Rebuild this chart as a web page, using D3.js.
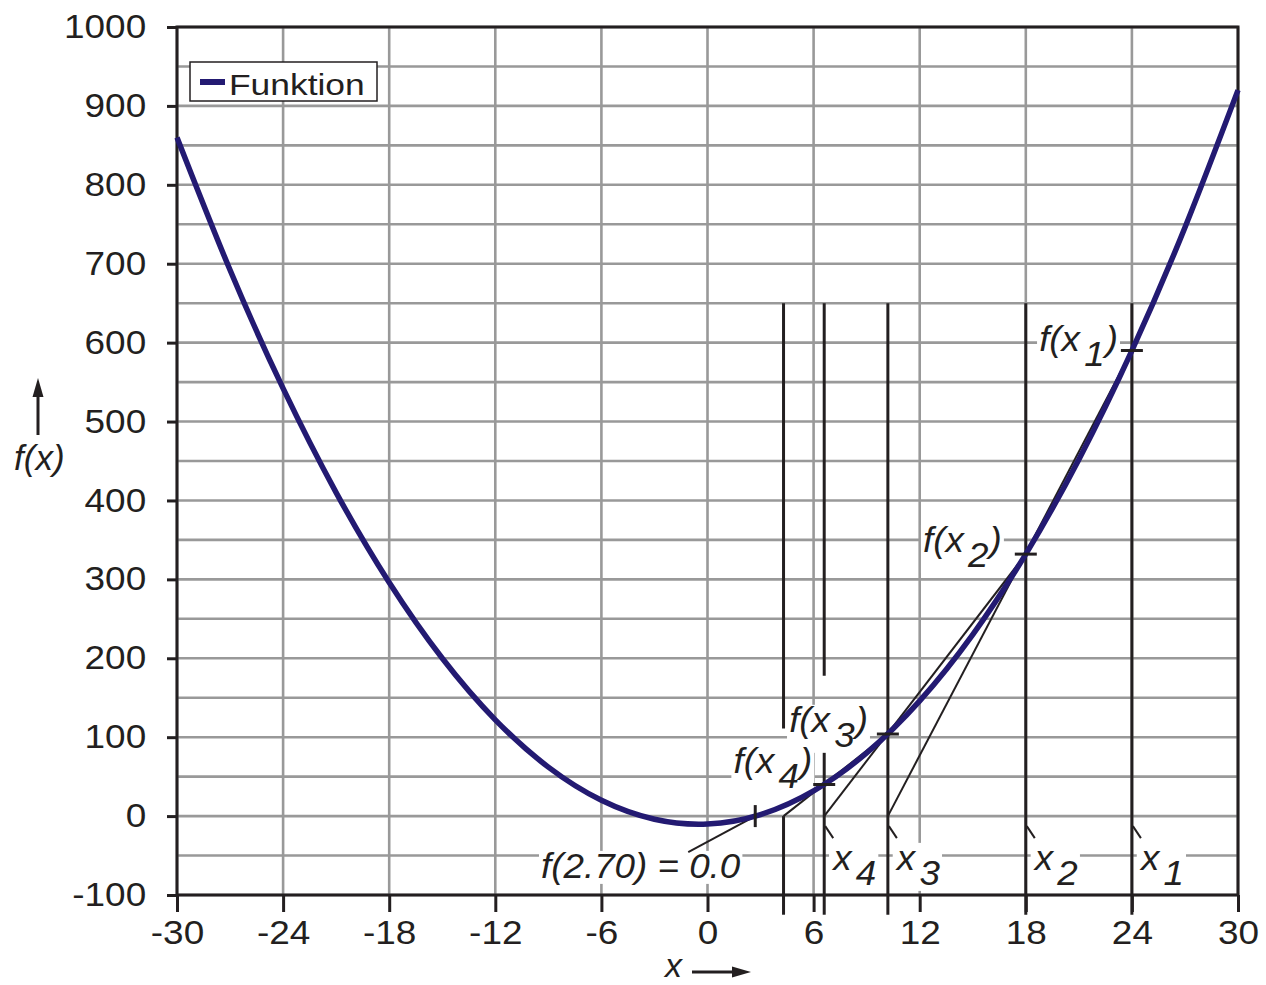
<!DOCTYPE html>
<html>
<head>
<meta charset="utf-8">
<script src="https://cdn.jsdelivr.net/npm/d3@7"></script>
<style>
  body { margin: 0; background: #fff; }
  svg { display: block; }
  text { font-family: "Liberation Sans", Arial, sans-serif; fill: #231f20; }
</style>
</head>
<body>
<div id="chart"></div>
<script>
// curve samples f(x)
var curveX = [-30, -27, -24, -21, -18, -15, -12, -9, -6, -3, 0, 3, 6, 9, 12, 15, 18, 21, 24, 27, 30];
var curveF = [860, 692, 542, 410, 296, 200, 122, 62, 20, -4, -10, 2, 32, 80, 146, 230, 332, 452, 590, 746, 920];

// secant iterates x1..x5 and their function values
var iterX = [24, 18, 10.2, 6.6, 4.3];
var iterF = [590, 332, 104, 40, 13];
var rootX = 2.70;
var rootLabel = "f(2.70) = 0.0";

var xTicks = [-30, -24, -18, -12, -6, 0, 6, 12, 18, 24, 30];
var yTicks = [-100, 0, 100, 200, 300, 400, 500, 600, 700, 800, 900, 1000];
var gridY = [-100, -50, 0, 50, 100, 150, 200, 250, 300, 350, 400, 450, 500, 550, 600, 650, 700, 750, 800, 850, 900, 950, 1000];

var width = 1266,
    height = 985;
var margin = {top: 27, right: 28, bottom: 90, left: 177};

var lineColor = "#231a72",
    ink = "#231f20",
    gridColor = "#999999";

var svg = d3.select("#chart").append("svg")
    .attr("width", width)
    .attr("height", height);

var x = d3.scaleLinear().domain([-30, 30]).range([margin.left, width - margin.right]);
var y = d3.scaleLinear().domain([-100, 1000]).range([height - margin.bottom, margin.top]);

// grid
svg.append("g").selectAll("line")
    .data(gridY)
    .enter().append("line")
      .attr("x1", x(-30)).attr("x2", x(30))
      .attr("y1", function(d) { return y(d); }).attr("y2", function(d) { return y(d); })
      .attr("stroke", gridColor).attr("stroke-width", 2.6);

svg.append("g").selectAll("line")
    .data(xTicks)
    .enter().append("line")
      .attr("x1", function(d) { return x(d); }).attr("x2", function(d) { return x(d); })
      .attr("y1", y(1000)).attr("y2", y(-100))
      .attr("stroke", gridColor).attr("stroke-width", 2.6);

// vertical lines at iterates (with gaps behind labels)
var vlines = [
  {x: iterX[0], segs: [[650, -125]]},
  {x: iterX[1], segs: [[650, -125]]},
  {x: iterX[2], segs: [[650, -125]]},
  {x: iterX[3], segs: [[650, 178], [86, -125]]},
  {x: iterX[4], segs: [[650, 111], [0, -125]]}
];
vlines.forEach(function(v) {
  v.segs.forEach(function(s) {
    svg.append("line")
      .attr("x1", x(v.x)).attr("x2", x(v.x))
      .attr("y1", y(s[0])).attr("y2", y(s[1]))
      .attr("stroke", ink).attr("stroke-width", 3);
  });
});

// axes
var fmt = function(d) { return String(d); };
var yAxis = svg.append("g")
    .attr("transform", "translate(" + margin.left + ",0)")
    .call(d3.axisLeft(y).tickValues(yTicks).tickSize(10).tickPadding(17.5).tickFormat(fmt));
var xAxis = svg.append("g")
    .attr("transform", "translate(0," + (height - margin.bottom) + ")")
    .call(d3.axisBottom(x).tickValues(xTicks).tickSize(17).tickPadding(9).tickFormat(fmt));

[yAxis, xAxis].forEach(function(a) {
  a.select(".domain").remove();
  a.selectAll(".tick line").attr("stroke", ink).attr("stroke-width", 3);
  a.selectAll(".tick text")
    .attr("font-family", "Liberation Sans, Arial, sans-serif")
    .attr("font-size", 33)
    .attr("fill", ink)
    .attr("transform", "scale(1.12,1)");
});
xAxis.selectAll(".tick text").attr("x", 0);

svg.append("rect")
    .attr("x", x(-30)).attr("y", y(1000))
    .attr("width", x(30) - x(-30)).attr("height", y(-100) - y(1000))
    .attr("fill", "none").attr("stroke", ink).attr("stroke-width", 3);

// label helper: italic text with optional subscript and white backing
function label(px, py, anchor, parts) {
  var g = svg.append("g").attr("transform", "translate(" + px + "," + py + ")");
  var inner = g.append("g").attr("transform", "scale(1.05,1)");
  var bg = inner.append("rect").attr("fill", "#fff");
  var t = inner.append("text")
      .attr("font-size", 35)
      .attr("font-style", "italic")
      .attr("text-anchor", anchor);
  t.append("tspan").text(parts[0]);
  if (parts.length > 1) {
    t.append("tspan").attr("dx", 4).attr("dy", 15).text(parts[1]);
    if (parts[2]) t.append("tspan").attr("dx", 1).attr("dy", -15).text(parts[2]);
  }
  var b = t.node().getBBox();
  bg.attr("x", b.x - 2).attr("y", b.y + 4).attr("width", b.width + 4).attr("height", b.height - 6);
  return g;
}

// f(x_i) labels
var fLabelPos = [[-14, 0], [-24, -2], [-20, -2], [-12, -12]];
iterF.slice(0, 4).forEach(function(f, i) {
  label(x(iterX[i]) + fLabelPos[i][0], y(f) + fLabelPos[i][1], "end", ["f(x", String(i + 1), ")"]);
});

// x_i labels + leaders
iterX.slice(0, 4).forEach(function(v, i) {
  label(x(v) + 9, y(0) + 54, "start", ["x", String(i + 1)]);
  svg.append("line")
    .attr("x1", x(v) + 1).attr("y1", y(0) + 10)
    .attr("x2", x(v) + 9).attr("y2", y(0) + 22)
    .attr("stroke", ink).attr("stroke-width", 2);
});

// root label + leader
label(x(rootX) - 15, y(0) + 62, "end", [rootLabel]);
svg.append("line")
    .attr("x1", x(rootX) - 67).attr("y1", y(0) + 36)
    .attr("x2", x(rootX)).attr("y2", y(0))
    .attr("stroke", ink).attr("stroke-width", 2);

// secant lines
for (var i = 0; i < 3; i++) {
  svg.append("line")
    .attr("x1", x(iterX[i])).attr("y1", y(iterF[i]))
    .attr("x2", x(iterX[i + 2])).attr("y2", y(0))
    .attr("stroke", ink).attr("stroke-width", 2);
}

// the function curve
var line = d3.line()
    .x(function(d) { return x(d[0]); })
    .y(function(d) { return y(d[1]); })
    .curve(d3.curveNatural);

svg.append("path")
    .datum(curveX.map(function(v, i) { return [v, curveF[i]]; }))
    .attr("d", line)
    .attr("fill", "none")
    .attr("stroke", lineColor)
    .attr("stroke-width", 5.5);

// markers on the curve
iterF.slice(0, 4).forEach(function(f, i) {
  svg.append("line")
    .attr("x1", x(iterX[i]) - 11).attr("x2", x(iterX[i]) + 11)
    .attr("y1", y(f)).attr("y2", y(f))
    .attr("stroke", ink).attr("stroke-width", 3);
});
svg.append("line")
    .attr("x1", x(rootX)).attr("x2", x(rootX))
    .attr("y1", y(0) - 11).attr("y2", y(0) + 11)
    .attr("stroke", ink).attr("stroke-width", 3);

// legend
var legend = svg.append("g").attr("transform", "translate(190,62)");
legend.append("rect")
    .attr("width", 187).attr("height", 39)
    .attr("fill", "#fff").attr("stroke", ink).attr("stroke-width", 1.5);
legend.append("line")
    .attr("x1", 10).attr("x2", 35).attr("y1", 20).attr("y2", 20)
    .attr("stroke", lineColor).attr("stroke-width", 6);
legend.append("text")
    .attr("transform", "translate(39,33) scale(1.18,1)")
    .attr("font-size", 30)
    .text("Funktion");

// axis titles with arrows
svg.append("text")
    .attr("x", 14).attr("y", 470)
    .attr("font-size", 35).attr("font-style", "italic")
    .text("f(x)");
svg.append("line")
    .attr("x1", 38).attr("x2", 38).attr("y1", 435).attr("y2", 392)
    .attr("stroke", ink).attr("stroke-width", 3);
svg.append("path")
    .attr("d", "M38,378L32.5,397L43.5,397Z")
    .attr("fill", ink);

svg.append("text")
    .attr("x", 665).attr("y", 977)
    .attr("font-size", 34).attr("font-style", "italic")
    .text("x");
svg.append("line")
    .attr("x1", 692).attr("x2", 735).attr("y1", 972).attr("y2", 972)
    .attr("stroke", ink).attr("stroke-width", 3);
svg.append("path")
    .attr("d", "M751,972L732,966.5L732,977.5Z")
    .attr("fill", ink);
</script>
</body>
</html>
